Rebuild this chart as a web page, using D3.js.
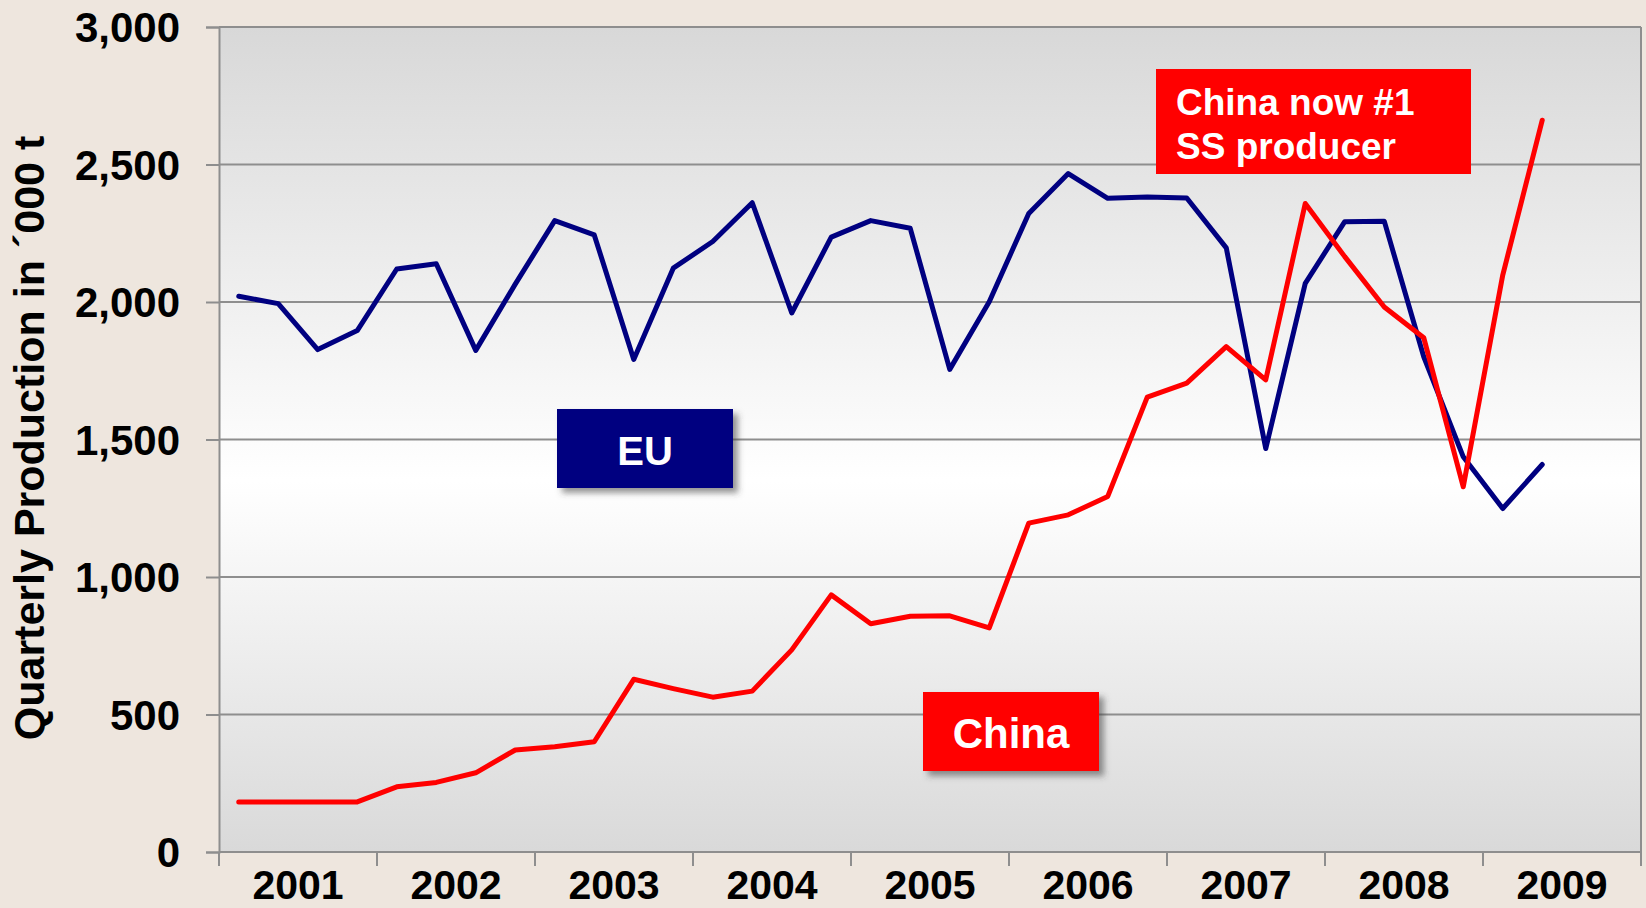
<!DOCTYPE html>
<html>
<head>
<meta charset="utf-8">
<script src="https://cdn.jsdelivr.net/npm/d3@7"></script>
<style>
  html, body { margin: 0; padding: 0; background: #EEE6DE; }
  svg { display: block; }
  text { font-family: "Liberation Sans", Arial, Helvetica, sans-serif; font-weight: bold; }
</style>
</head>
<body>
<svg id="chart" width="1646" height="908"></svg>
<script>
// ---- Data ----
const years = ["2001", "2002", "2003", "2004", "2005", "2006", "2007", "2008", "2009"];
const quarterNames = ["Q1", "Q2", "Q3", "Q4"];
// Quarterly production in '000 t, 2001 Q1 .. 2009 Q2
const euValues = [
  2021, 1994, 1827, 1896,
  2120, 2139, 1824, 2065,
  2296, 2244, 1791, 2123,
  2220, 2361, 1960, 2236,
  2296, 2268, 1755, 2001,
  2322, 2467, 2377, 2382,
  2378, 2197, 1467, 2068,
  2292, 2294, 1801, 1437,
  1249, 1409
];
const chinaValues = [
  182, 182, 182, 182,
  237, 253, 288, 371,
  383, 401, 628, 594,
  563, 585, 735, 935,
  830, 857, 859, 815,
  1196, 1226, 1293, 1654,
  1705, 1838, 1717, 2358,
  2165, 1982, 1870, 1328,
  2098, 2661
];
const yTicks = [0, 500, 1000, 1500, 2000, 2500, 3000];
const yTitle = "Quarterly Production in \u00B4000 t";

// ---- Layout ----
const W = 1646, H = 908;
const plot = { left: 219, right: 1641, top: 27, bottom: 852 };

const quarters = [];
years.forEach(y => quarterNames.forEach(q => quarters.push(y + " " + q)));

const svg = d3.select("#chart");

const x = d3.scaleBand().domain(quarters).range([plot.left, plot.right]).padding(0);
const xYear = d3.scaleBand().domain(years).range([plot.left, plot.right]).padding(0);
const y = d3.scaleLinear().domain([0, 3000]).range([plot.bottom, plot.top]);

// background
svg.append("rect").attr("width", W).attr("height", H).attr("fill", "#EEE6DE");

const defs = svg.append("defs");
const grad = defs.append("linearGradient").attr("id", "plotGrad")
  .attr("x1", 0).attr("y1", 0).attr("x2", 0).attr("y2", 1);
grad.append("stop").attr("offset", "0%").attr("stop-color", "#d8d8d8");
grad.append("stop").attr("offset", "55%").attr("stop-color", "#ffffff");
grad.append("stop").attr("offset", "100%").attr("stop-color", "#d9d9d9");

const shadow = defs.append("filter").attr("id", "shadow")
  .attr("x", "-20%").attr("y", "-20%").attr("width", "150%").attr("height", "150%");
shadow.append("feDropShadow").attr("dx", 5).attr("dy", 5).attr("stdDeviation", 3)
  .attr("flood-color", "#404040").attr("flood-opacity", 0.55);

svg.append("rect")
  .attr("x", plot.left).attr("y", plot.top)
  .attr("width", plot.right - plot.left).attr("height", plot.bottom - plot.top)
  .attr("fill", "url(#plotGrad)");

// gridlines
svg.append("g").selectAll("line").data(yTicks).join("line")
  .attr("x1", plot.left).attr("x2", plot.right)
  .attr("y1", d => y(d)).attr("y2", d => y(d))
  .attr("stroke", "#8e8e8e").attr("stroke-width", 2);

// right border
svg.append("line")
  .attr("x1", plot.right).attr("x2", plot.right)
  .attr("y1", plot.top).attr("y2", plot.bottom)
  .attr("stroke", "#8e8e8e").attr("stroke-width", 2);

// y axis
const yAxis = d3.axisLeft(y).tickValues(yTicks).tickFormat(d3.format(",")).tickSize(13).tickPadding(26);
const gy = svg.append("g").attr("transform", `translate(${plot.left},0)`).call(yAxis);
gy.select(".domain").attr("stroke", "#8e8e8e").attr("stroke-width", 2);
gy.selectAll(".tick line").attr("stroke", "#8e8e8e").attr("stroke-width", 2);
gy.selectAll(".tick text")
  .attr("font-size", 42).attr("font-family", "Liberation Sans, Arial, sans-serif")
  .attr("font-weight", "bold").attr("fill", "#000").attr("dy", "0.35em");

// x axis: year boundary ticks + year labels
const boundaries = years.map(yr => xYear(yr)).concat([plot.right]);
const gx = svg.append("g");
gx.append("line")
  .attr("x1", plot.left).attr("x2", plot.right)
  .attr("y1", plot.bottom).attr("y2", plot.bottom)
  .attr("stroke", "#8e8e8e").attr("stroke-width", 2);
gx.selectAll("line.tk").data(boundaries).join("line").attr("class", "tk")
  .attr("x1", d => d).attr("x2", d => d)
  .attr("y1", plot.bottom).attr("y2", plot.bottom + 14)
  .attr("stroke", "#8e8e8e").attr("stroke-width", 2);
gx.selectAll("text").data(years).join("text")
  .attr("x", d => xYear(d) + xYear.bandwidth() / 2)
  .attr("y", 899)
  .attr("text-anchor", "middle")
  .attr("font-size", 41).attr("fill", "#000")
  .text(d => d);

// y title
svg.append("text")
  .attr("transform", "translate(44,438) rotate(-90)")
  .attr("text-anchor", "middle")
  .attr("font-size", 43).attr("fill", "#000")
  .text(yTitle);

// lines
const line = d3.line()
  .x((d, i) => x(quarters[i]) + x.bandwidth() / 2)
  .y(d => y(d));

svg.append("path").datum(euValues)
  .attr("d", line).attr("fill", "none")
  .attr("stroke", "#000080").attr("stroke-width", 5)
  .attr("stroke-linejoin", "round").attr("stroke-linecap", "round");

svg.append("path").datum(chinaValues)
  .attr("d", line).attr("fill", "none")
  .attr("stroke", "#ff0000").attr("stroke-width", 5)
  .attr("stroke-linejoin", "round").attr("stroke-linecap", "round");

// annotation boxes
const euBox = svg.append("g");
euBox.append("rect").attr("x", 557).attr("y", 409).attr("width", 176).attr("height", 79)
  .attr("fill", "#000080").attr("filter", "url(#shadow)");
euBox.append("text").attr("x", 645).attr("y", 465).attr("text-anchor", "middle")
  .attr("font-size", 40).attr("fill", "#fff").text("EU");

const cnBox = svg.append("g");
cnBox.append("rect").attr("x", 923).attr("y", 692).attr("width", 176).attr("height", 79)
  .attr("fill", "#ff0000").attr("filter", "url(#shadow)");
cnBox.append("text").attr("x", 1011).attr("y", 748).attr("text-anchor", "middle")
  .attr("font-size", 42).attr("fill", "#fff").text("China");

const noteBox = svg.append("g");
noteBox.append("rect").attr("x", 1156).attr("y", 69).attr("width", 315).attr("height", 105)
  .attr("fill", "#ff0000");
noteBox.append("text").attr("x", 1176).attr("y", 115)
  .attr("font-size", 37).attr("fill", "#fff").text("China now #1");
noteBox.append("text").attr("x", 1176).attr("y", 159)
  .attr("font-size", 37).attr("fill", "#fff").text("SS producer");
</script>
</body>
</html>
